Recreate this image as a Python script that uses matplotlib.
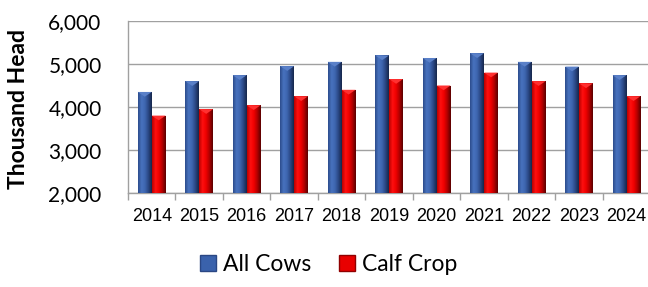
"""
All cows vs calf crop, 2014-2024, grouped bars with a shaded (cylinder-like) look.
Output: out.png
"""
import numpy as np
import matplotlib
matplotlib.use("Agg")
import matplotlib.pyplot as plt
from matplotlib.colors import LinearSegmentedColormap
from matplotlib.patches import Patch, Polygon
from matplotlib.ticker import FuncFormatter, FixedLocator

years = ["2014", "2015", "2016", "2017", "2018", "2019", "2020", "2021", "2022", "2023", "2024"]
all_cows = [4350, 4600, 4740, 4950, 5050, 5200, 5140, 5250, 5050, 4940, 4740]
calf_crop = [3800, 3950, 4040, 4250, 4400, 4650, 4500, 4800, 4600, 4550, 4250]
series_names = ["All Cows", "Calf Crop"]

BLUE = "#3A62AC"
RED = "#E80000"
blue_cmap = LinearSegmentedColormap.from_list("b", ["#2C4C8C", "#4872BE", "#3E66B0", "#2A4784", "#16264A"])
red_cmap = LinearSegmentedColormap.from_list("r", ["#B80000", "#FF1010", "#F00000", "#B00000", "#5A0000"])


def shade(ax, bars, cmap, base, cap):
    grad = np.linspace(0, 1, 64).reshape(1, -1)
    for b in bars:
        x0, w, h = b.get_x(), b.get_width(), b.get_height()
        im = ax.imshow(grad, cmap=cmap, aspect="auto", extent=[x0, x0 + w, base, base + h],
                       zorder=3, interpolation="bilinear")
        im.set_clip_path(b)
        top = base + h
        ax.add_patch(Polygon([[x0, top], [x0 + w, top], [x0 + w / 2, top - 110]],
                             closed=True, facecolor=cap, lw=0, zorder=4))


def main():
    plt.rcParams["font.family"] = ["Lato", "DejaVu Sans"]
    fig = plt.figure(figsize=(6.48, 2.87), dpi=100)
    ax = fig.add_axes([0.1975, 0.3275, 0.806, 0.5993])

    x = np.arange(len(years))
    w = 0.294
    base = 2000
    b1 = ax.bar(x - w / 2, np.array(all_cows) - base, w, bottom=base, color=BLUE, zorder=2, lw=0)
    b2 = ax.bar(x + w / 2, np.array(calf_crop) - base, w, bottom=base, color=RED, zorder=2, lw=0)
    shade(ax, b1, blue_cmap, base, "#5A80C8")
    shade(ax, b2, red_cmap, base, "#FF3030")

    ax.set_xlim(-0.5, len(years) - 0.5)
    ax.set_ylim(2000, 6000)
    ax.set_yticks([2000, 3000, 4000, 5000, 6000])
    ax.yaxis.set_major_formatter(FuncFormatter(lambda v, p: f"{int(v):,}"))
    ax.grid(axis="y", color="#A0A0A0", lw=1, zorder=0)
    ax.set_axisbelow(True)

    ax.set_xticks(x)
    ax.set_xticklabels(years, family="Liberation Sans", fontsize=13)
    ax.xaxis.set_minor_locator(FixedLocator(np.arange(-0.5, len(years), 1.0)))
    ax.tick_params(axis="x", which="major", length=0, pad=11)
    ax.tick_params(axis="x", which="minor", length=5, color="#A0A0A0", width=1)
    ax.tick_params(axis="y", length=0, pad=19, labelsize=15)

    for s in ["top", "right"]:
        ax.spines[s].set_visible(False)
    for s in ["left", "bottom"]:
        ax.spines[s].set_color("#A0A0A0")
        ax.spines[s].set_linewidth(1)

    fig.text(19 / 648, 0.62, "Thousand Head", rotation=90, ha="center", va="center",
             fontsize=16.5, fontweight="bold")

    handles = [Patch(facecolor=BLUE, edgecolor="#2A4784"), Patch(facecolor=RED, edgecolor="#900000")]
    fig.legend(handles, series_names, loc="center", bbox_to_anchor=(0.507, 0.077), ncol=2,
               frameon=False, fontsize=16.5, handlelength=0.7, handleheight=0.7,
               handletextpad=0.3, columnspacing=1.2)

    fig.savefig("out.png", dpi=100)


if __name__ == "__main__":
    main()
